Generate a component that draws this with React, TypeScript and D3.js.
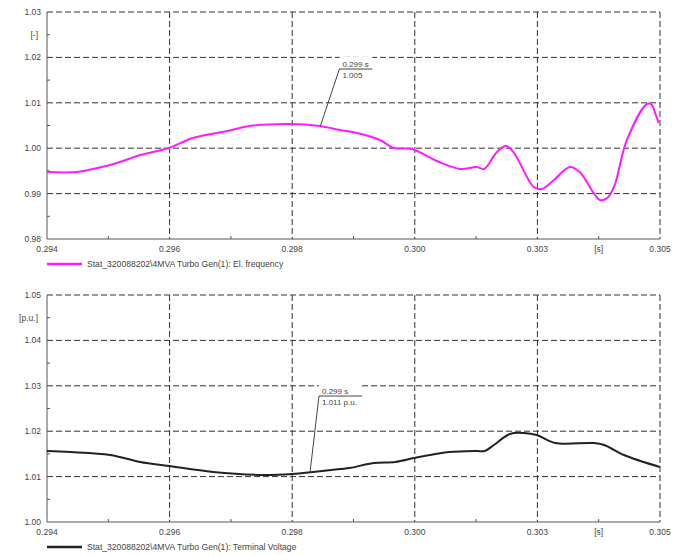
import React from 'react';
import * as d3 from 'd3';

const xTicks = [0.294, 0.296, 0.298, 0.3, 0.302, 0.304];
const xTickLabels = ['0.294', '0.296', '0.298', '0.300', '0.303', '0.305'];
const xUnitAt = 0.303;
const xUnitLabel = '[s]';

const freqX = [0.294, 0.29449, 0.29482, 0.29514, 0.29552, 0.29599, 0.29638, 0.29694, 0.29731, 0.29796, 0.29845, 0.29878, 0.29906, 0.29943, 0.29966, 0.29995, 0.30036, 0.30074, 0.30101, 0.30113, 0.30134, 0.30149, 0.30162, 0.30194, 0.30207, 0.30227, 0.30253, 0.30269, 0.30302, 0.30314, 0.30325, 0.30346, 0.30379, 0.30387, 0.30392, 0.30398];
const freqY = [0.99476, 0.99476, 0.99564, 0.99674, 0.9985, 1.00004, 1.00225, 1.00379, 1.00489, 1.00533, 1.00489, 1.00401, 1.00335, 1.00181, 1.00004, 0.99982, 0.99718, 0.99542, 0.99586, 0.99542, 0.99916, 1.00048, 0.99894, 0.99146, 0.99101, 0.993, 0.99586, 0.99476, 0.98859, 0.98903, 0.99146, 1.00181, 1.00974, 1.00952, 1.00776, 1.00555];

const voltX = [0.294, 0.29438, 0.29503, 0.29552, 0.29599, 0.29671, 0.29752, 0.298, 0.29834, 0.29878, 0.29894, 0.29933, 0.29968, 0.29999, 0.30025, 0.30057, 0.30101, 0.30114, 0.30129, 0.30155, 0.30178, 0.30199, 0.30229, 0.30292, 0.30309, 0.30341, 0.304];
const voltY = [1.01564, 1.01542, 1.01476, 1.01322, 1.01233, 1.01101, 1.01035, 1.01057, 1.01101, 1.01167, 1.01189, 1.013, 1.01322, 1.0141, 1.01476, 1.01542, 1.01564, 1.01564, 1.01696, 1.01938, 1.0196, 1.01916, 1.0174, 1.0174, 1.01696, 1.01476, 1.01211];

const freqYTicks = [0.98, 0.99, 1.0, 1.01, 1.02, 1.03];
const voltYTicks = [1.0, 1.01, 1.02, 1.03, 1.04, 1.05];

const freqAnno = { x: 0.29846, y: 1.0049, t1: '0.299 s', t2: '1.005' };
const voltAnno = { x: 0.29829, y: 1.0108, t1: '0.299 s', t2: '1.011 p.u.' };

const FONT = 'Liberation Sans, Arial, sans-serif';
const LEFT = 47;
const RIGHT = 660;

type PanelProps = {
  top: number;
  bottom: number;
  xs: number[];
  ys: number[];
  yTicks: number[];
  unit: string;
  color: string;
  legend: string;
  anno: { x: number; y: number; t1: string; t2: string };
  annoDx: number;
  annoLabelY: number;
  annoW: number;
};

function Panel(p: PanelProps) {
  const x = d3.scaleLinear().domain([0.294, 0.304]).range([LEFT, RIGHT]);
  const y = d3.scaleLinear().domain([p.yTicks[0], p.yTicks[p.yTicks.length - 1]]).range([p.bottom, p.top]);
  const pts = p.xs.map((v, i) => [v, p.ys[i]] as [number, number]);
  const line = d3.line<[number, number]>().x(d => x(d[0])).y(d => y(d[1])).curve(d3.curveCatmullRom.alpha(0.5));
  const yMinor = p.yTicks.slice(0, -1).map((t, i) => (t + p.yTicks[i + 1]) / 2);
  const xMinor = xTicks.slice(0, -1).map((t, i) => (t + xTicks[i + 1]) / 2);
  const ax = x(p.anno.x);
  const ay = y(p.anno.y);
  const lx = ax + p.annoDx;
  const ly = p.annoLabelY;
  const grid = '#333';
  return (
    <g>
      {p.yTicks.slice(1).map(t => (
        <line key={'gy' + t} x1={LEFT} x2={RIGHT} y1={y(t)} y2={y(t)} stroke={grid} strokeWidth={1} strokeDasharray="6,3" />
      ))}
      {xTicks.slice(1).map(t => (
        <line key={'gx' + t} x1={x(t)} x2={x(t)} y1={p.top} y2={p.bottom} stroke={grid} strokeWidth={1} strokeDasharray="6,3" />
      ))}
      <rect x={lx} y={ly - 12} width={p.annoW} height={24} fill="#fff" />
      <line x1={LEFT} x2={LEFT} y1={p.top} y2={p.bottom} stroke="#555" strokeWidth={1} />
      <line x1={LEFT} x2={RIGHT} y1={p.bottom} y2={p.bottom} stroke="#555" strokeWidth={1} />
      {yMinor.map(t => (
        <line key={'my' + t} x1={LEFT} x2={LEFT + 3} y1={y(t)} y2={y(t)} stroke="#555" />
      ))}
      {xMinor.map(t => (
        <line key={'mx' + t} x1={x(t)} x2={x(t)} y1={p.bottom} y2={p.bottom - 3} stroke="#555" />
      ))}
      {p.yTicks.map(t => (
        <text key={'ty' + t} x={41} y={y(t)} dy="0.35em" textAnchor="end" fontSize={8.5} fill="#444" fontFamily={FONT}>
          {t.toFixed(2)}
        </text>
      ))}
      <text x={38} y={y((p.yTicks[4] + p.yTicks[5]) / 2)} dy="0.35em" textAnchor="end" fontSize={8.5} fill="#444" fontFamily={FONT}>
        {p.unit}
      </text>
      {xTicks.map((t, i) => (
        <text key={'tx' + t} x={x(t)} y={p.bottom + 13} textAnchor="middle" fontSize={8.5} fill="#444" fontFamily={FONT}>
          {xTickLabels[i]}
        </text>
      ))}
      <text x={x(xUnitAt)} y={p.bottom + 13} textAnchor="middle" fontSize={8.5} fill="#444" fontFamily={FONT}>
        {xUnitLabel}
      </text>
      <path d={line(pts) || ''} fill="none" stroke={p.color} strokeWidth={2} strokeLinejoin="round" />
      <line x1={ax} y1={ay} x2={lx} y2={ly} stroke="#444" strokeWidth={1} />
      <line x1={lx} y1={ly} x2={lx + p.annoW} y2={ly} stroke="#444" strokeWidth={1} />
      <text x={lx + 3} y={ly - 2} fontSize={8} fill="#444" fontFamily={FONT}>{p.anno.t1}</text>
      <text x={lx + 3} y={ly + 9} fontSize={8} fill="#444" fontFamily={FONT}>{p.anno.t2}</text>
      <line x1={LEFT} x2={82} y1={p.bottom + 25} y2={p.bottom + 25} stroke={p.color} strokeWidth={2.5} />
      <text x={87} y={p.bottom + 25} dy="0.35em" fontSize={8.6} fill="#444" fontFamily={FONT}>{p.legend}</text>
    </g>
  );
}

export default function App() {
  return (
    <svg width={677} height={556} style={{ position: 'absolute', left: 0, top: 0, background: '#fff' }}>
      <rect width={677} height={556} fill="#fff" />
      <Panel
        top={12}
        bottom={239}
        xs={freqX}
        ys={freqY}
        yTicks={freqYTicks}
        unit="[-]"
        color="#ff1aff"
        legend="Stat_320088202\4MVA Turbo Gen(1): El. frequency"
        anno={freqAnno}
        annoDx={19}
        annoLabelY={69}
        annoW={33}
      />
      <Panel
        top={295}
        bottom={522}
        xs={voltX}
        ys={voltY}
        yTicks={voltYTicks}
        unit="[p.u.]"
        color="#222"
        legend="Stat_320088202\4MVA Turbo Gen(1): Terminal Voltage"
        anno={voltAnno}
        annoDx={9}
        annoLabelY={396}
        annoW={43}
      />
    </svg>
  );
}
